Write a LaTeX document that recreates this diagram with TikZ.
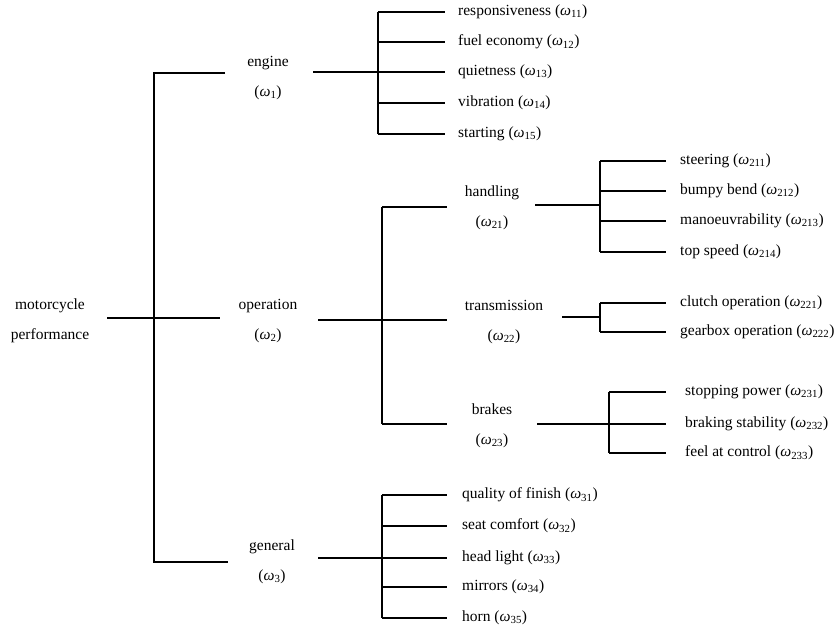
\documentclass[tikz,border=0pt]{standalone}
\usepackage{fontspec}
\setmainfont{Liberation Serif}
\newcommand\om[1]{(\textit{ω}\textsubscript{#1})}
\begin{document}
\begin{tikzpicture}[x=1pt,y=-1pt,
  ln/.style={line width=1.8pt},
  leaf/.style={anchor=west,inner sep=3pt,font=\fontsize{15.5}{18}\selectfont},
  plabel/.style={align=center,inner sep=2pt,font=\fontsize{15.5}{30}\selectfont}]
\useasboundingbox (0,0) rectangle (835,632);
% labels
\node[plabel] (root) at (50,321) {motorcycle\\performance};
\node[plabel] (eng) at (268,78) {engine\\\om{1}};
\node[plabel] (op) at (268,321) {operation\\\om{2}};
\node[plabel] (gen) at (272,562) {general\\\om{3}};
\node[plabel] (hand) at (492,208) {handling\\\om{21}};
\node[plabel] (trans) at (504,322) {transmission\\\om{22}};
\node[plabel] (brk) at (492,426) {brakes\\\om{23}};
% leaves
\node[leaf] (r11) at (455,12) {responsiveness \om{11}};
\node[leaf] (r12) at (455,42) {fuel economy \om{12}};
\node[leaf] (r13) at (455,72) {quietness \om{13}};
\node[leaf] (r14) at (455,103) {vibration \om{14}};
\node[leaf] (r15) at (455,134) {starting \om{15}};
\node[leaf] (h1) at (677,161) {steering \om{211}};
\node[leaf] (h2) at (677,191) {bumpy bend \om{212}};
\node[leaf] (h3) at (677,221) {manoeuvrability \om{213}};
\node[leaf] (h4) at (677,252) {top speed \om{214}};
\node[leaf] (t1) at (677,303) {clutch operation \om{221}};
\node[leaf] (t2) at (677,332) {gearbox operation \om{222}};
\node[leaf] (b1) at (682,392) {stopping power \om{231}};
\node[leaf] (b2) at (682,424) {braking stability \om{232}};
\node[leaf] (b3) at (682,453) {feel at control \om{233}};
\node[leaf] (g1) at (459,495) {quality of finish \om{31}};
\node[leaf] (g2) at (459,526) {seat comfort \om{32}};
\node[leaf] (g3) at (459,558) {head light \om{33}};
\node[leaf] (g4) at (459,587) {mirrors \om{34}};
\node[leaf] (g5) at (459,618) {horn \om{35}};
% junction coordinates
\coordinate (rootout) at (107,318);
\coordinate (trunk) at (154,0);
\coordinate (engin) at (225,73);
\coordinate (opin) at (220,318);
\coordinate (genin) at (228,562);
\coordinate (engout) at (313,72);
\coordinate (ev) at (378,0);
\coordinate (eend) at (445,0);
\coordinate (opout) at (318,320);
\coordinate (ov) at (382,0);
\coordinate (oend) at (447,0);
\coordinate (hin) at (447,207);
\coordinate (tin) at (447,320);
\coordinate (bin) at (447,424);
\coordinate (genout) at (318,558);
\coordinate (handout) at (535,205);
\coordinate (transout) at (562,317);
\coordinate (brkout) at (537,424);
\coordinate (hv) at (600,0);
\coordinate (bv) at (609,0);
\coordinate (lend) at (666,0);
% level 1
\draw[ln] (engin) -- (engin -| trunk) -- (genin -| trunk) -- (genin);
\draw[ln] (rootout) -- (opin);
% engine
\draw[ln] (engout) -- (r13.west -| eend);
\draw[ln] (r11.west -| ev) -- (r15.west -| ev);
\foreach \n in {r11,r12,r14,r15} \draw[ln] (\n.west -| ev) -- (\n.west -| eend);
% operation
\draw[ln] (opout) -- (tin);
\draw[ln] (hin -| ov) -- (bin -| ov);
\draw[ln] (hin -| ov) -- (hin);
\draw[ln] (bin -| ov) -- (bin);
% handling
\draw[ln] (handout) -- (handout -| hv);
\draw[ln] (h1.west -| hv) -- (h4.west -| hv);
\foreach \n in {h1,h2,h3,h4} \draw[ln] (\n.west -| hv) -- (\n.west -| lend);
% transmission
\draw[ln] (transout) -- (transout -| hv);
\draw[ln] (t1.west -| hv) -- (t2.west -| hv);
\foreach \n in {t1,t2} \draw[ln] (\n.west -| hv) -- (\n.west -| lend);
% brakes
\draw[ln] (brkout) -- (b2.west -| lend);
\draw[ln] (b1.west -| bv) -- (b3.west -| bv);
\foreach \n in {b1,b3} \draw[ln] (\n.west -| bv) -- (\n.west -| lend);
% general
\draw[ln] (genout) -- (g3.west -| oend);
\draw[ln] (g1.west -| ov) -- (g5.west -| ov);
\foreach \n in {g1,g2,g4,g5} \draw[ln] (\n.west -| ov) -- (\n.west -| oend);
\end{tikzpicture}
\end{document}
